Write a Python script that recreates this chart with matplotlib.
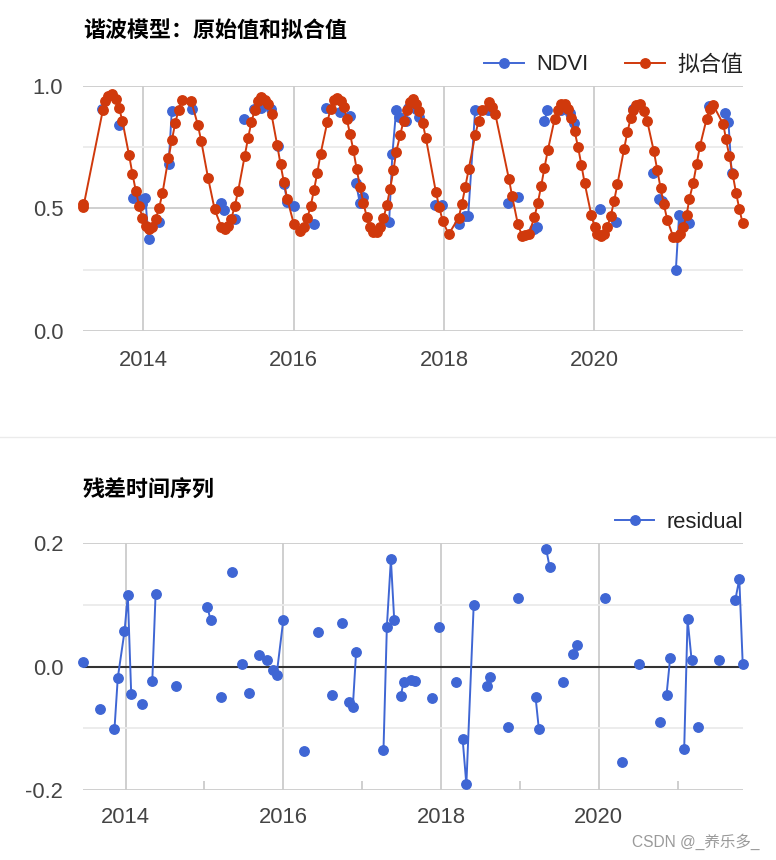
import matplotlib
matplotlib.use('Agg')
import matplotlib.pyplot as plt
import numpy as np
from matplotlib.lines import Line2D

plt.rcParams['font.family'] = ['Liberation Sans', 'Noto Sans CJK SC', 'DejaVu Sans']

# ---------------- data ----------------
fit_dates = [2013.196, 2013.204, 2013.463, 2013.493, 2013.537, 2013.591, 2013.636, 2013.680, 2013.724, 2013.813,
             2013.857, 2013.903, 2013.947, 2013.991, 2014.036, 2014.080, 2014.124, 2014.169, 2014.213, 2014.257,
             2014.337, 2014.383, 2014.427, 2014.471, 2014.516, 2014.640, 2014.729, 2014.773, 2014.863, 2014.951,
             2015.040, 2015.084, 2015.129, 2015.173, 2015.217, 2015.263, 2015.351, 2015.396, 2015.440, 2015.484,
             2015.529, 2015.573, 2015.617, 2015.663, 2015.707, 2015.783, 2015.827, 2015.871, 2015.916, 2016.004,
             2016.080, 2016.137, 2016.183, 2016.227, 2016.271, 2016.316, 2016.360, 2016.449, 2016.493, 2016.537,
             2016.583, 2016.627, 2016.671, 2016.707, 2016.751, 2016.796, 2016.840, 2016.884, 2016.929, 2016.973,
             2017.017, 2017.063, 2017.107, 2017.151, 2017.196, 2017.240, 2017.284, 2017.329, 2017.364, 2017.417,
             2017.463, 2017.507, 2017.551, 2017.583, 2017.627, 2017.671, 2017.716, 2017.760, 2017.893, 2017.937,
             2017.983, 2018.063, 2018.196, 2018.240, 2018.284, 2018.329, 2018.417, 2018.463, 2018.507, 2018.596,
             2018.640, 2018.684, 2018.863, 2018.907, 2018.983, 2019.040, 2019.084, 2019.129, 2019.204, 2019.249,
             2019.293, 2019.337, 2019.383, 2019.471, 2019.516, 2019.560, 2019.604, 2019.649, 2019.693, 2019.737,
             2019.783, 2019.827, 2019.871, 2019.960, 2020.004, 2020.040, 2020.084, 2020.129, 2020.173, 2020.217,
             2020.263, 2020.307, 2020.396, 2020.440, 2020.484, 2020.516, 2020.560, 2020.604, 2020.657, 2020.703,
             2020.791, 2020.836, 2020.880, 2020.924, 2020.969, 2021.049, 2021.093, 2021.137, 2021.183, 2021.227,
             2021.263, 2021.316, 2021.360, 2021.404, 2021.493, 2021.537, 2021.583, 2021.716, 2021.751, 2021.796,
             2021.840, 2021.884, 2021.929, 2021.973]
fit_vals = [0.520, 0.505, 0.900, 0.940, 0.960, 0.968, 0.948, 0.910, 0.857, 0.717,
            0.642, 0.571, 0.509, 0.463, 0.428, 0.418, 0.425, 0.459, 0.504, 0.563,
            0.707, 0.781, 0.849, 0.903, 0.941, 0.938, 0.839, 0.774, 0.625, 0.496,
            0.425, 0.418, 0.428, 0.459, 0.509, 0.571, 0.714, 0.789, 0.853, 0.903,
            0.938, 0.954, 0.944, 0.925, 0.884, 0.758, 0.680, 0.608, 0.540, 0.436,
            0.407, 0.425, 0.462, 0.509, 0.574, 0.646, 0.724, 0.853, 0.907, 0.941,
            0.952, 0.938, 0.914, 0.866, 0.805, 0.737, 0.660, 0.588, 0.523, 0.466,
            0.425, 0.405, 0.405, 0.425, 0.462, 0.513, 0.581, 0.656, 0.730, 0.798,
            0.859, 0.903, 0.934, 0.948, 0.927, 0.897, 0.850, 0.787, 0.567, 0.506,
            0.449, 0.395, 0.463, 0.520, 0.588, 0.660, 0.802, 0.859, 0.903, 0.934,
            0.916, 0.884, 0.622, 0.550, 0.436, 0.387, 0.391, 0.395, 0.466, 0.524,
            0.592, 0.667, 0.740, 0.864, 0.903, 0.927, 0.927, 0.907, 0.870, 0.816,
            0.751, 0.679, 0.604, 0.473, 0.425, 0.395, 0.387, 0.395, 0.425, 0.468,
            0.531, 0.599, 0.744, 0.812, 0.870, 0.903, 0.921, 0.925, 0.897, 0.857,
            0.734, 0.659, 0.585, 0.517, 0.455, 0.384, 0.382, 0.395, 0.425, 0.473,
            0.538, 0.606, 0.680, 0.754, 0.866, 0.907, 0.921, 0.843, 0.782, 0.713,
            0.640, 0.565, 0.497, 0.439]

obs_dates = [2013.457, 2013.678, 2013.860, 2013.902, 2013.987, 2014.029, 2014.072, 2014.207, 2014.339, 2014.381,
             2014.644, 2015.039, 2015.080, 2015.216, 2015.344, 2015.478, 2015.563, 2015.694, 2015.788, 2015.872,
             2015.916, 2016.000, 2016.266, 2016.437, 2016.619, 2016.749, 2016.831, 2016.882, 2016.924, 2017.271,
             2017.314, 2017.365, 2017.407, 2017.492, 2017.525, 2017.623, 2017.674, 2017.886, 2017.979, 2018.195,
             2018.275, 2018.322, 2018.415, 2018.585, 2018.627, 2018.847, 2018.979, 2019.199, 2019.241, 2019.335,
             2019.377, 2019.551, 2019.678, 2019.729, 2020.076, 2020.292, 2020.512, 2020.775, 2020.860, 2020.906,
             2021.084, 2021.127, 2021.178, 2021.254, 2021.521, 2021.732, 2021.783, 2021.826]
ndvi_vals = [0.907, 0.842, 0.541, 0.553, 0.520, 0.544, 0.374, 0.443, 0.683, 0.898,
             0.906, 0.521, 0.493, 0.459, 0.867, 0.908, 0.911, 0.905, 0.756, 0.602,
             0.527, 0.511, 0.438, 0.909, 0.892, 0.876, 0.603, 0.522, 0.547, 0.446,
             0.721, 0.904, 0.874, 0.856, 0.909, 0.905, 0.873, 0.516, 0.514, 0.438,
             0.470, 0.469, 0.902, 0.903, 0.900, 0.524, 0.547, 0.417, 0.423, 0.857,
             0.902, 0.902, 0.891, 0.851, 0.499, 0.445, 0.908, 0.645, 0.539, 0.531,
             0.248, 0.472, 0.436, 0.442, 0.917, 0.890, 0.855, 0.645]
resid_vals = [0.007, -0.068, -0.101, -0.018, 0.057, 0.116, -0.044, -0.061, -0.024, 0.117,
              -0.032, 0.096, 0.075, -0.050, 0.153, 0.005, -0.043, 0.019, 0.011, -0.006,
              -0.013, 0.075, -0.136, 0.056, -0.046, 0.071, -0.057, -0.066, 0.024, -0.135,
              0.065, 0.174, 0.076, -0.047, -0.025, -0.022, -0.024, -0.051, 0.065, -0.025,
              -0.118, -0.191, 0.100, -0.031, -0.016, -0.098, 0.111, -0.049, -0.101, 0.190,
              0.162, -0.025, 0.021, 0.035, 0.112, -0.154, 0.005, -0.089, -0.046, 0.014,
              -0.134, 0.077, 0.011, -0.098, 0.010, 0.108, 0.142, 0.005]
# 1 = observation directly follows the previous one (no masked image in between)
obs_link = [0, 0, 0, 1, 1, 1, 1, 0, 0, 1,
            0, 0, 1, 0, 0, 0, 0, 0, 0, 0,
            1, 1, 0, 0, 0, 0, 0, 1, 1, 0,
            1, 1, 1, 0, 1, 1, 1, 0, 0, 0,
            0, 1, 1, 0, 1, 0, 0, 0, 1, 0,
            1, 0, 0, 1, 0, 0, 0, 0, 0, 1,
            0, 1, 1, 0, 0, 0, 1, 1]

series_names = ['NDVI', '拟合值']
resid_name = 'residual'
title_top = '谐波模型：原始值和拟合值'
title_bottom = '残差时间序列'
major_years = [2014, 2016, 2018, 2020]
minor_years = [2015, 2017, 2019, 2021]
top_yticks = [0.0, 0.5, 1.0]
top_yminor = [0.25, 0.75]
bot_yticks = [-0.2, 0.0, 0.2]
bot_yminor = [-0.1, 0.1]
watermark = 'CSDN @_养乐多_'

# ---------------- style ----------------
BLUE = '#3f66d4'
RED = '#d0390c'
GRID = '#cccccc'
MINOR = '#ebebeb'
TXT = '#444444'
FS = 15.8
MS = 6.8
LW = 1.4

W, H = 776, 860
fig = plt.figure(figsize=(W / 100, H / 100), dpi=100)


def rect(l, t, r, b):
    return [l / W, 1 - b / H, (r - l) / W, (b - t) / H]


def broken(x, y, link):
    xs, ys = [], []
    for i, (a, b, l) in enumerate(zip(x, y, link)):
        if i > 0 and not l:
            xs.append(np.nan)
            ys.append(np.nan)
        xs.append(a)
        ys.append(b)
    return np.array(xs), np.array(ys)


def style_axes(ax, yt, ym, ylabels, xpad):
    for s in ax.spines.values():
        s.set_visible(False)
    ax.set_yticks(yt)
    ax.set_yticklabels(ylabels)
    ax.set_yticks(ym, minor=True)
    ax.set_xticks(major_years)
    ax.set_xticklabels([str(y) for y in major_years])
    ax.yaxis.grid(True, which='major', color=GRID, lw=1.3, zorder=0)
    ax.yaxis.grid(True, which='minor', color=MINOR, lw=1.3, zorder=0)
    ax.xaxis.grid(True, which='major', color=GRID, lw=1.3, zorder=0)
    ax.tick_params(axis='y', which='both', length=0, pad=14, labelsize=FS, labelcolor=TXT)
    ax.tick_params(axis='x', which='major', length=0, pad=xpad, labelsize=FS, labelcolor=TXT)
    ax.set_axisbelow(True)


# ---------------- top chart ----------------
ax1 = fig.add_axes(rect(82.7, 86, 742.7, 331))
bx, by = broken(obs_dates, ndvi_vals, obs_link)
ax1.plot(bx, by, color=BLUE, lw=LW, marker='o', ms=MS, mec=BLUE, mfc=BLUE, clip_on=False, zorder=3)
ax1.plot(fit_dates, fit_vals, color=RED, lw=LW, marker='o', ms=MS, mec=RED, mfc=RED, clip_on=False, zorder=4)
ax1.set_xlim(min(fit_dates), max(fit_dates))
ax1.set_ylim(0, 1)
style_axes(ax1, top_yticks, top_yminor, ['%.1f' % v for v in top_yticks], 13.5)

# ---------------- bottom chart ----------------
ax2 = fig.add_axes(rect(82.7, 543.3, 742.7, 790))
rx, ry = broken(obs_dates, resid_vals, obs_link)
ax2.plot(rx, ry, color=BLUE, lw=LW, marker='o', ms=MS, mec=BLUE, mfc=BLUE, clip_on=False, zorder=4)
ax2.set_xlim(min(obs_dates), max(obs_dates))
ax2.set_ylim(-0.2, 0.2)
style_axes(ax2, bot_yticks, bot_yminor, ['%.1f' % v for v in bot_yticks], 12.5)
ax2.axhline(0, color='#333333', lw=1.5, zorder=2)
ax2.set_xticks(minor_years, minor=True)
ax2.tick_params(axis='x', which='minor', direction='in', length=6.5, width=1.3, color=GRID)

# ---------------- titles / legends ----------------
fig.text(83 / W, 1 - 30 / H, title_top, fontsize=FS, fontweight='bold', ha='left', va='center',
         color='#000000', family=['Noto Sans CJK SC'])
fig.text(83 / W, 1 - 490 / H, title_bottom, fontsize=FS, fontweight='bold', ha='left', va='center',
         color='#000000', family=['Noto Sans CJK SC'])

h_top = [Line2D([], [], color=c, lw=LW, marker='o', ms=MS) for c in (BLUE, RED)]
fig.legend(h_top, series_names, loc='center right', bbox_to_anchor=(743 / W, 1 - 65 / H), ncol=2,
           frameon=False, fontsize=FS, handlelength=1.8, handletextpad=0.55, columnspacing=1.7,
           borderpad=0, borderaxespad=0, labelcolor='#222222')
h_bot = [Line2D([], [], color=BLUE, lw=LW, marker='o', ms=MS)]
fig.legend(h_bot, [resid_name], loc='center right', bbox_to_anchor=(743 / W, 1 - 522 / H), ncol=1,
           frameon=False, fontsize=FS, handlelength=1.8, handletextpad=0.55,
           borderpad=0, borderaxespad=0, labelcolor='#222222')

fig.add_artist(Line2D([0, 1], [1 - 437 / H, 1 - 437 / H], color='#ebebeb', lw=1))
fig.text(760 / W, 1 - 842 / H, watermark, fontsize=11.2, color='#9a9a9a', ha='right', va='center')

fig.savefig('out.png', dpi=100)
